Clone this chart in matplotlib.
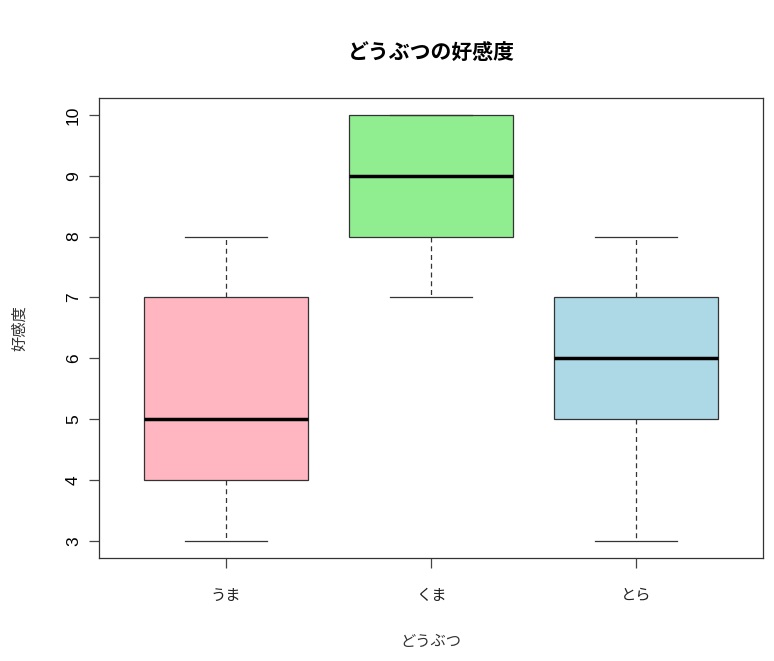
import matplotlib.pyplot as plt

plt.rcParams["font.family"] = ["Noto Sans CJK JP", "DejaVu Sans"]

# どうぶつごとの好感度の箱ひげ図の統計量
animals = ["うま", "くま", "とら"]
whisker_low = [3, 7, 3]
q1 = [4, 8, 5]
medians = [5, 9, 6]
q3 = [7, 10, 7]
whisker_high = [8, 10, 8]
box_colors = ["#FFB6C1", "#90EE90", "#ADD8E6"]
y_ticks = [3, 4, 5, 6, 7, 8, 9, 10]

stats = [
    {"label": a, "whislo": lo, "q1": b, "med": m, "q3": t, "whishi": hi, "fliers": []}
    for a, lo, b, m, t, hi in zip(animals, whisker_low, q1, medians, q3, whisker_high)
]

fig = plt.figure(figsize=(7.74, 6.61), dpi=100)
ax = fig.add_axes([0.128, 0.156, 0.858, 0.696])

positions = list(range(1, len(animals) + 1))
parts = ax.bxp(
    stats,
    positions=positions,
    widths=0.8,
    patch_artist=True,
    boxprops=dict(edgecolor="#333333", linewidth=0.9),
    medianprops=dict(color="black", linewidth=2.5),
    whiskerprops=dict(color="#333333", linewidth=0.9, linestyle=(0, (4, 3))),
    capprops=dict(color="#333333", linewidth=0.9),
    capwidths=0.4,
)
for patch, c in zip(parts["boxes"], box_colors):
    patch.set_facecolor(c)

ax.set_xlim(0.38, 3.62)
ax.set_ylim(2.72, 10.28)
ax.set_yticks(y_ticks)
ax.set_yticklabels([str(v) for v in y_ticks], family="Liberation Sans", fontsize=12.5)
ax.set_xticks(positions)
ax.set_xticklabels(animals, fontsize=11, color="#222222")
ax.tick_params(axis="y", length=7, width=0.9, color="#444444",
               labelrotation=90, pad=6)
ax.tick_params(axis="x", length=7, width=0.9, color="#444444", pad=14)
for lbl in ax.get_yticklabels():
    lbl.set_verticalalignment("center")

for s in ax.spines.values():
    s.set_color("#333333")
    s.set_linewidth(0.9)

ax.set_title("どうぶつの好感度", fontsize=15, fontweight="bold", pad=28)
ax.set_xlabel("どうぶつ", fontsize=11, color="#333333", labelpad=21)
ax.set_ylabel("好感度", fontsize=11, color="#333333", labelpad=27)

fig.savefig("out.png", dpi=100)
